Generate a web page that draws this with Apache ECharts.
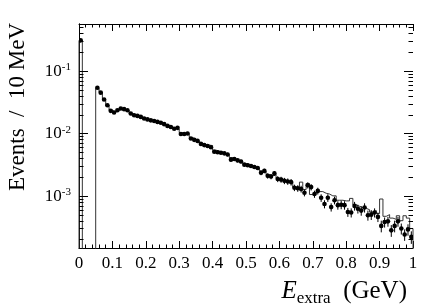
<!DOCTYPE html>
<html><head><meta charset="utf-8">
<script src="https://cdn.jsdelivr.net/npm/echarts@6/dist/echarts.min.js"></script>
<style>html,body{margin:0;padding:0;background:#fff}#c{width:429px;height:305px}</style>
</head><body><div id="c"></div>
<script>
// ---- data (bins of 10 MeV from 0 to 1 GeV) ----
const binLow = 0;
const binWidth = 0.01;
const xTickLabels = ['0','0.1','0.2','0.3','0.4','0.5','0.6','0.7','0.8','0.9','1'];
const yTickExponents = [-3, -2, -1];
const yMajorTicks = [1e-3, 1e-2, 1e-1];
const yMinorTicks = [2e-4,3e-4,4e-4,5e-4,6e-4,7e-4,8e-4,9e-4,
                     2e-3,3e-3,4e-3,5e-3,6e-3,7e-3,8e-3,9e-3,
                     2e-2,3e-2,4e-2,5e-2,6e-2,7e-2,8e-2,9e-2,
                     2e-1,3e-1,4e-1,5e-1];

// data points (null = no entry)
const dataValues = [
 0.31, null, null, null, null, 0.054, 0.045, 0.035, 0.0283, 0.023,
 0.0216, 0.0235, 0.0251, 0.0245, 0.0235, 0.0209, 0.0196, 0.0191, 0.0184, 0.0174,
 0.0168, 0.0162, 0.0158, 0.0153, 0.0148, 0.0141, 0.0132, 0.0127, 0.0119, 0.0123,
 0.0098, 0.0098, 0.0100, 0.0083, 0.0079, 0.0076, 0.0068, 0.0065, 0.0063, 0.0060,
 0.0051, 0.0050, 0.0049, 0.0048, 0.0046, 0.0038, 0.0039, 0.0037, 0.00355, 0.00316,
 0.0031, 0.0030, 0.0029, 0.0028, 0.00234, 0.00251, 0.00209, 0.00204, 0.00229, 0.00186,
 0.00182, 0.00174, 0.00170, 0.00166, 0.00135, 0.00132, 0.00129, 0.00112, 0.00148, 0.00138,
 0.00107, 0.00120, 0.00093, 0.00074, 0.00093, 0.00066, 0.00085, 0.00071, 0.00072, 0.00071,
 0.00055, 0.00054, 0.00069, 0.00062, 0.00058, 0.00065, 0.00049, 0.00050, 0.00054, 0.00046,
 0.00033, 0.00038, 0.00039, 0.00028, 0.00033, 0.00039, 0.00030, 0.00024, 0.00029, 0.00022
];
const dataErrors = [
 0.004, null, null, null, null, 0.0011, 0.0009, 0.0007, 0.0006, 0.0005,
 0.0005, 0.0005, 0.0005, 0.0005, 0.0005, 0.0005, 0.0005, 0.0005, 0.0005, 0.0005,
 0.0005, 0.0005, 0.0005, 0.0005, 0.0005, 0.0005, 0.0005, 0.0005, 0.0005, 0.0005,
 0.0004, 0.0004, 0.0004, 0.0004, 0.0004, 0.0004, 0.0003, 0.0003, 0.0003, 0.0003,
 0.0003, 0.0003, 0.0003, 0.0003, 0.0003, 0.00025, 0.00025, 0.00025, 0.00025, 0.0002,
 0.0002, 0.0002, 0.0002, 0.0002, 0.0002, 0.0002, 0.0002, 0.0002, 0.0002, 0.0002,
 0.0002, 0.0002, 0.0002, 0.0002, 0.00016, 0.00016, 0.00016, 0.00014, 0.00017, 0.00016,
 0.00014, 0.00015, 0.00013, 0.00011, 0.00013, 0.0001, 0.00012, 0.00011, 0.00011, 0.00011,
 0.00009, 0.00009, 0.00011, 0.0001, 0.0001, 0.00011, 0.00009, 0.00009, 0.00009, 0.00008,
 0.00007, 0.00007, 0.00007, 0.00006, 0.00007, 0.00007, 0.00006, 0.00005, 0.00006, 0.00005
];
// simulation histogram (0 = empty bin)
const mcValues = [
 0.31, 0, 0, 0, 0, 0.053, 0.046, 0.036, 0.028, 0.0235,
 0.022, 0.0235, 0.025, 0.0245, 0.0232, 0.021, 0.0198, 0.019, 0.0183, 0.0175,
 0.0168, 0.0163, 0.0157, 0.0152, 0.0147, 0.014, 0.0133, 0.0127, 0.0121, 0.0118,
 0.0103, 0.0099, 0.0098, 0.0086, 0.0081, 0.0077, 0.0070, 0.0066, 0.0065, 0.0064,
 0.0054, 0.0052, 0.0050, 0.0048, 0.0046, 0.0041, 0.0040, 0.0037, 0.0036, 0.0033,
 0.0032, 0.0030, 0.0029, 0.0028, 0.0025, 0.0025, 0.0022, 0.0021, 0.0022, 0.0019,
 0.00185, 0.00178, 0.00172, 0.00168, 0.00138, 0.00135, 0.00166, 0.00126, 0.00158, 0.00105,
 0.00105, 0.00117, 0.00117, 0.0011, 0.00107, 0.0010, 0.0010, 0.00085, 0.00085, 0.00083,
 0.00083, 0.00091, 0.00072, 0.00068, 0.00065, 0.00063, 0.0006, 0.00055, 0.00058, 0.00052,
 0.00089, 0.00047, 0.0005, 0.00044, 0.00042, 0.00048, 0.0004, 0.00048, 0.00044, 0.0003
];

// ---- build series data ----
const FLOOR = 1e-9;
const histData = [];
histData.push([binLow, FLOOR]);
mcValues.forEach((v, i) => {
  const lo = binLow + i * binWidth, hi = lo + binWidth;
  const y = v > 0 ? v : FLOOR;
  histData.push([lo, y]);
  histData.push([hi, y]);
});
histData.push([binLow + mcValues.length * binWidth, FLOOR]);

const pointData = [];
dataValues.forEach((v, i) => {
  if (v == null) return;
  pointData.push([binLow + (i + 0.5) * binWidth, v, dataErrors[i]]);
});

const tickData = yMajorTicks.map(v => [0, v, 1]).concat(yMinorTicks.map(v => [0, v, 0]));

const SERIF = '"Liberation Serif", "DejaVu Serif", serif';
const chart = echarts.init(document.getElementById('c'), null, {renderer: 'canvas'});

const xAxisBase = {
  type: 'value', min: 0, max: 1, interval: 0.1,
  axisLine: {show: true, onZero: false, lineStyle: {color: '#000', width: 1}},
  axisTick: {show: true, inside: true, length: 7, lineStyle: {color: '#000', width: 1}},
  minorTick: {show: true, splitNumber: 5, length: 3.5, lineStyle: {color: '#000', width: 1}},
  splitLine: {show: false}, minorSplitLine: {show: false}
};

chart.setOption({
  animation: false,
  backgroundColor: '#fff',
  grid: {left: 79, right: 16, top: 24, bottom: 57, containLabel: false},
  title: {
    right: 17, top: 272,
    text: '{e|E}{s|extra}{n|  (GeV)}',
    textStyle: {
      fontWeight: 'normal',
      rich: {
        e: {fontFamily: SERIF, fontStyle: 'italic', fontWeight: 'normal', fontSize: 25, color: '#000', verticalAlign: 'bottom', lineHeight: 27},
        s: {fontFamily: SERIF, fontWeight: 'normal', fontSize: 17, color: '#000', verticalAlign: 'bottom', lineHeight: 20, padding: [0, 0, -3, 0]},
        n: {fontFamily: SERIF, fontWeight: 'normal', fontSize: 25, color: '#000', verticalAlign: 'bottom', lineHeight: 27}
      }
    }
  },
  graphic: [{
    type: 'text', x: 18, y: 107, rotation: Math.PI / 2,
    style: {text: 'Events  /  10 MeV', font: '23px ' + SERIF, fill: '#000', align: 'center', verticalAlign: 'middle'}
  }],
  xAxis: [
    Object.assign({}, xAxisBase, {
      position: 'bottom',
      axisLabel: {show: true, margin: 7, fontFamily: SERIF, fontSize: 17, color: '#000',
        formatter: v => xTickLabels[Math.round(v * 10)]}
    }),
    Object.assign({}, xAxisBase, {position: 'top', axisLabel: {show: false}})
  ],
  yAxis: [
    {
      type: 'log', logBase: 10, min: 1.46e-4, max: 0.567, position: 'left',
      axisLine: {show: true, lineStyle: {color: '#000', width: 1}},
      axisTick: {show: false}, minorTick: {show: false},
      splitLine: {show: false},
      axisLabel: {
        show: true, margin: 8, color: '#000',
        formatter: function (v) {
          const l = Math.log10(v), r = Math.round(l);
          if (Math.abs(l - r) < 1e-6 && yTickExponents.indexOf(r) >= 0) return '{b|10}{s|' + r + '}';
          return '';
        },
        rich: {
          b: {fontFamily: SERIF, fontSize: 17, color: '#000', verticalAlign: 'bottom', lineHeight: 18},
          s: {fontFamily: SERIF, fontSize: 11, color: '#000', verticalAlign: 'top', lineHeight: 12}
        }
      }
    },
    {
      type: 'log', logBase: 10, min: 1.46e-4, max: 0.567, position: 'right',
      axisLine: {show: true, lineStyle: {color: '#000', width: 1}},
      axisTick: {show: false}, axisLabel: {show: false}, splitLine: {show: false}
    }
  ],
  series: [
    {
      type: 'line', data: histData, showSymbol: false, symbol: 'none',
      lineStyle: {color: '#333', width: 1}, clip: true, z: 2, silent: true
    },
    {
      type: 'custom', data: pointData, clip: true, z: 3, silent: true,
      renderItem: function (params, api) {
        const x = api.value(0), v = api.value(1), e = api.value(2);
        const c = api.coord([x, v]);
        const t = api.coord([x, v + e]);
        const b = api.coord([x, Math.max(v - e, 1e-9)]);
        return {type: 'group', children: [
          {type: 'line', shape: {x1: c[0], y1: t[1], x2: c[0], y2: b[1]}, style: {stroke: '#000', lineWidth: 1}},
          {type: 'circle', shape: {cx: c[0], cy: c[1], r: 2.3}, style: {fill: '#000'}}
        ]};
      }
    },
    {
      type: 'custom', data: tickData, clip: false, z: 4, silent: true,
      renderItem: function (params, api) {
        const v = api.value(1), major = api.value(2);
        const a = api.coord([0, v]);
        const b = api.coord([1, v]);
        const len = major ? 9 : 4.5;
        const y = Math.round(a[1]) + 0.5;
        return {type: 'group', children: [
          {type: 'line', shape: {x1: a[0], y1: y, x2: a[0] + len, y2: y}, style: {stroke: '#000', lineWidth: 1}},
          {type: 'line', shape: {x1: b[0] - len, y1: y, x2: b[0], y2: y}, style: {stroke: '#000', lineWidth: 1}}
        ]};
      }
    }
  ]
});
</script></body></html>
